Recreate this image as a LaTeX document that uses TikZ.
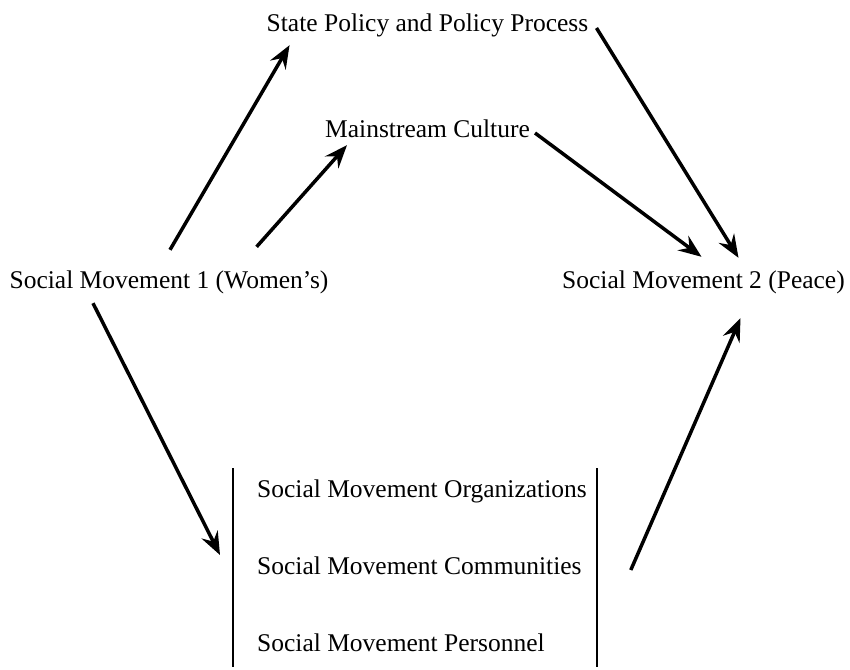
\documentclass[tikz,border=0pt]{standalone}
\usepackage{fontspec}
\setmainfont{Liberation Serif}
\usetikzlibrary{arrows.meta}

\begin{document}
\begin{tikzpicture}[x=1pt, y=-1pt, node distance=100pt,
  topic/.style={font=\fontsize{25.5}{30}\selectfont, inner sep=0pt, text height=18pt, text depth=6pt},
  link/.style={-{Stealth[length=23pt,width=18pt,inset=8pt]}, line width=3.5pt},
  boxline/.style={line width=2pt}]
\useasboundingbox (0,0) rectangle (850,669);

\node [topic] (women) at (169,282) {Social Movement 1 (Women's)};
\node [topic, right of=women, node distance=534.5pt] (peace) {Social Movement 2 (Peace)};
\node [topic] (culture) at (427.5,131) {Mainstream Culture};
\node [topic, above of=culture, node distance=105pt] (state) {State Policy and Policy Process};
\node [topic, anchor=west] (orgs) at (257,491) {Social Movement Organizations};
\node [topic, anchor=west] (comms) at ([yshift=-77pt]orgs.west) {Social Movement Communities};
\node [topic, anchor=west] (pers) at ([yshift=-77pt]comms.west) {Social Movement Personnel};

% the bracket round the three parts
\coordinate (boxnw) at ([xshift=-24pt,yshift=23pt]orgs.west);
\coordinate (boxsw) at ([xshift=-24pt,yshift=-22pt]pers.west);
\coordinate (boxne) at ([xshift=364pt]boxnw);
\coordinate (boxse) at ([xshift=364pt]boxsw);
\draw [boxline] (boxnw) -- (boxsw);
\draw [boxline] (boxne) -- (boxse);

\draw [link] ([xshift=1pt,yshift=20pt]women.north) -- ([xshift=23pt,yshift=-7pt]state.south west);
\draw [link] ([xshift=-72pt,yshift=23pt]women.north east) -- ([xshift=22pt,yshift=-2pt]culture.south west);
\draw [link] ([xshift=5pt,yshift=-2pt]culture.east) -- ([xshift=-2pt,yshift=13pt]peace.north);
\draw [link] ([xshift=8pt,yshift=-2pt]state.east) -- ([xshift=35pt,yshift=12pt]peace.north);
\draw [link] ([xshift=-76pt,yshift=-9pt]women.south) -- ([xshift=-37pt,yshift=13pt]comms.west);
\draw [link] ([xshift=49pt,yshift=-2pt]comms.east) -- ([xshift=37pt,yshift=-24pt]peace.south);
\end{tikzpicture}
\end{document}
